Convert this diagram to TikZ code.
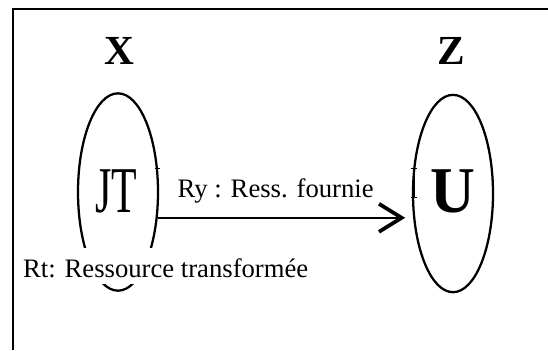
\documentclass[tikz,border=0pt]{standalone}
\usepackage{fontspec}
\setmainfont{Liberation Serif}
\usepackage{graphicx}
\usetikzlibrary{shapes.geometric, arrows.meta, positioning}

\begin{document}
\begin{tikzpicture}[
    x=0.75pt, y=-0.75pt,
    sys/.style={
      ellipse, draw=black, line width=1.7pt, inner sep=0pt,
      minimum width=60pt, minimum height=148pt
    },
    title/.style={font=\fontsize{31}{31}\selectfont\bfseries, inner sep=0pt},
    lbl/.style={font=\fontsize{20}{24}\selectfont, inner sep=0pt},
    arr/.style={-{Straight Barb[length=17pt, width=21pt, line width=2.8pt]}, line width=1.5pt},
    tick/.style={line width=0.8pt},
    frame/.style={line width=1.6pt},
  ]
  \useasboundingbox (0,0) rectangle (548,350);

  % Frame
  \draw[frame] (12.6,350) -- (12.6,9) -- (548,9);

  % Systems
  \node[sys] (sysX) at (118,192) {};
  \node[sys] (sysZ) at (453,193.5) {};
  \node[title] (X) at (119.6,51) {X};
  \node[title] (Z) at (450.9,51) {Z};
  \node (jt) at (116,191.7) {\scalebox{0.64}[1]{\fontsize{49}{49}\selectfont JT}};
  \node (u) at (452.5,191.5) {\scalebox{0.95}[1]{\fontsize{49}{49}\selectfont\bfseries U}};

  % Labels
  \node[lbl, anchor=base] (ry) at (275.7,197) {Ry : Ress. fournie};
  \node[lbl, anchor=base, fill=white, text height=18pt, text depth=1pt, inner ysep=4pt]
    (rt) at (165.7,277) {Rt: Ressource transformée};

  % Arrow
  \draw[arr, shorten >=5pt] (sysX.-33) -- (sysX.-33 -| sysZ.west);

  % Ticks
  \draw[tick, {Bar[width=4pt]}-] (157.3,168) -- (157.3,214);
  \draw[tick, {Bar[width=4pt]}-{Bar[width=4pt]}] (414,168) -- (414,198);

\end{tikzpicture}
\end{document}
